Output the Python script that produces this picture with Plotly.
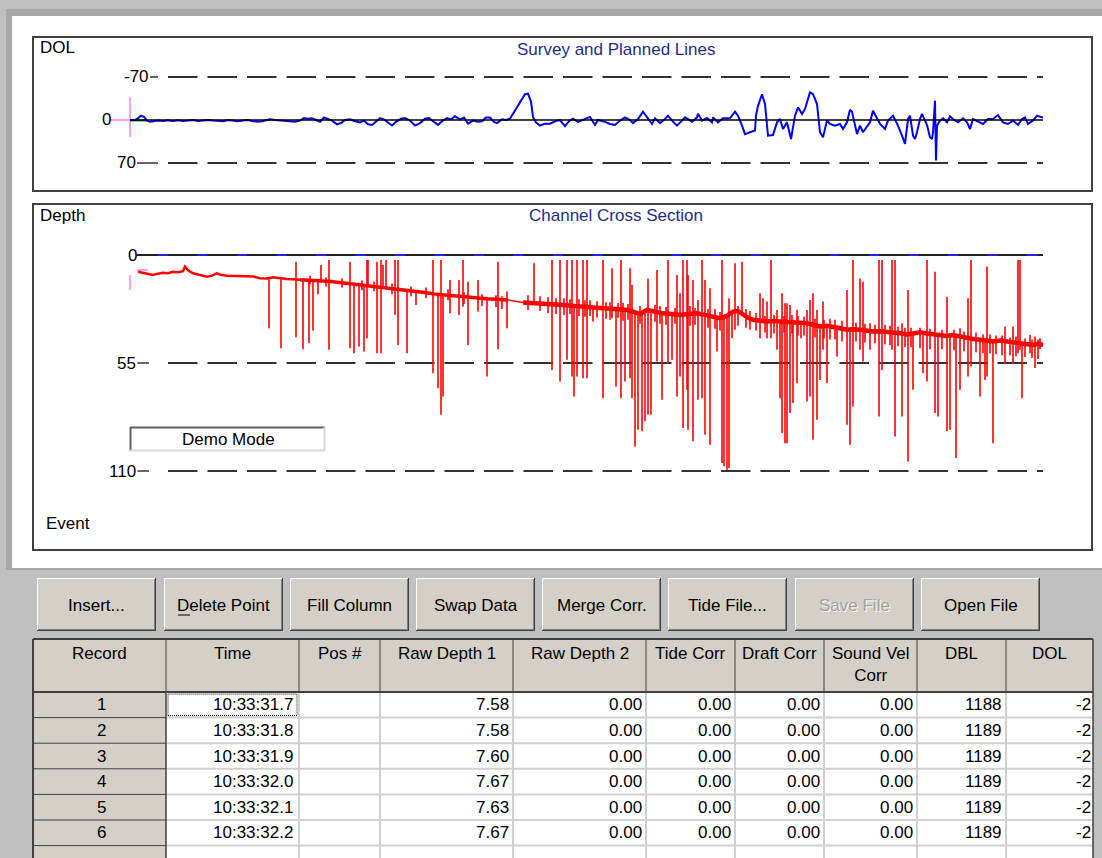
import plotly.graph_objects as go

# ------------------------------------------------------------------ DATA
# Survey line: distance along line vs. distance off line (DOL)
dol_dist = [0, 5, 8, 11, 14, 17, 20, 23, 28, 33, 38, 43, 48, 53, 58, 63, 68, 73, 78, 83,
            88, 93, 98, 103, 108, 113, 118, 123, 128, 132, 136, 140, 145, 150, 155, 160, 165, 170, 174, 178,
            182, 186, 190, 194, 198, 202, 207, 211, 215, 220, 225, 230, 234, 238, 242, 246, 250, 254, 258, 262,
            266, 271, 275, 280, 285, 290, 295, 299, 303, 308, 312, 317, 321, 325, 330, 334, 338, 343, 348, 352,
            356, 360, 364, 367, 372, 376, 380, 395, 398, 401, 403, 406, 410, 415, 420, 425, 430, 435, 439, 443,
            448,
            455, 460, 465, 468, 475, 480, 485, 490, 495, 500, 503, 508, 513, 517, 522, 525, 530, 535, 538, 543,
            547, 552, 555, 562, 567, 568, 572, 577, 582, 583, 588, 593, 600, 605, 608, 612, 615, 620, 625, 626,
            628, 632, 635, 638, 643, 647, 650, 653, 657, 661, 665, 668, 672, 675, 680, 683, 687, 690, 693, 697,
            700, 705, 710, 713, 717, 720, 722, 727, 730, 733, 740, 743, 747, 750, 755, 758, 763, 768, 772, 775,
            778, 780, 783, 785, 787, 790, 792, 797, 800, 802, 803, 805, 806, 807, 810, 813, 817, 820, 823, 828,
            833, 837, 840, 843, 848, 853, 858, 863, 868, 873, 878, 883, 888, 892, 895, 898, 903, 907, 912, 913]
dol_value = [0, 0, -3, -7, -5, 1, 3, 2, 1, 1.5, 0.5, 1.5, 0.5, 1.5, 1, 0, 1.5, 1, 0, 1,
             2, 2, 0, 1, 2, 1, 0, 2, 3, 2, 0, -1, 0, 1, 2, 3, 3, 1, -3, -2,
             -3, 0, 3, -4, -2, 1, 7, 5, 0, -1, 2, 4, 1, 7, 8, 2, -3, -1, 4, 9,
             3, -2, -3, 1, 9, 5, -2, -3, 2, 8, 2, -3, -1, -6, -1, -4, 6, 1, 3, 2,
             -4, -4, 3, 5, -1, 0, -2, -42, -43, -30, -5, 4, 9, 6, 6, 2, 0, 10, 2, -2,
             3,
             -1.6, -5, 8, 0, 3, 6.5, 8, 1, -4.3, 0, 5, -1.6, -13.6, -4.3, 6.5, -2.7, 5, -1.6, -7, 2.7,
             9.2, 1, -4.3, 2.7, -4.3, -10, 1, -3.3, 3.8, -4.3, 3.8, -2.7, -2.7, -13.6, -7, 9.2, 23, 20, 17, -7,
             -23, -42, -26, 25.5, 24.4, 3.8, -1.6, 14.6, 3.8, 31, -7, -20.6, -9.8, -18, -45, -42, -26, 20, 28, 1,
             6.5, 9.2, 6.5, 14.6, 3.8, -16.8, -13.6, 23, 9.2, 20, 3.8, -15, -1.6, 6.5, 14.6, 1, -7, 9.2, 25.5, 39,
             -1.6, -7, 25.5, 31, 20, -1.6, -10, 8.1, 28, 31, 20, -31.5, 66, 9.2, 1, -2.7, 3.8, -6, -1.6, 3.8,
             -2.7, 3.8, 14.6, -1.6, 2.7, 6.5, -1.6, -1.6, -8, 3.8, 6.5, 1, 8.1, -1.6, -4.3, 6.5, 1, -7, -4.3, -4.3]

planned_dist = [0, 8, 17]
planned_value = [0.8, 0.8, 0.8]

# Channel cross section: sounded depth along the line
depth_dist = [8, 17, 23, 28, 33, 38, 43, 48, 53, 55, 58, 63, 70, 77, 82, 87, 90, 97, 107, 115,
              123, 130, 137, 143, 150, 157, 163, 170, 177, 183, 190, 197, 203, 210, 217, 223, 230, 237, 243, 250,
              257, 263, 270, 277, 283, 290, 297, 303, 310, 317, 323, 330, 337, 343, 350, 357, 363, 370, 378, 393,
              400, 407, 417, 423, 430, 437, 443, 450, 457, 463, 470, 477, 483, 490, 497, 503, 510, 517, 523, 533,
              542, 550, 558, 567, 575, 583, 590, 597, 603, 608, 613, 618, 623, 630, 637, 643, 650, 657, 663, 670,
              677, 683, 690, 697, 703, 710, 717, 723, 730, 737, 743, 750, 757, 763, 770, 777, 783, 790, 797, 803,
              810, 817, 823, 830, 837, 843, 850, 857, 863, 870, 877, 883, 890, 897, 903, 908, 913]
depth_value = [8.5, 9.3, 10.2, 9.5, 9, 9.3, 8.5, 8.8, 8.2, 5.9, 7.8, 9.3, 10.2, 11, 10.5, 9.3, 10, 10.5, 10.7, 10.9,
               11, 11.8, 11.9, 11.3, 11.9, 12.2, 12.4, 12.6, 12.7, 13.1, 13.2, 13.4, 13.6, 14, 14.4, 14.8, 15.3, 15.7, 16.1, 16.6,
               17, 17.4, 17.8, 18.2, 18.6, 18.9, 19.2, 19.8, 20.3, 20.5, 20.8, 21, 21.2, 21.6, 22, 22.3, 22.5, 22.7, 22.9, 24.2,
               24.4, 24.2, 24.6, 25, 25.4, 25.6, 25.9, 26.1, 26.3, 26.6, 27.1, 27.3, 27.6, 27.8, 28, 28.8, 30, 28, 28.6, 29.7,
               30, 30.5, 30, 29.7, 30.5, 31.4, 32.2, 31, 28.8, 28.5, 30.5, 32, 33, 33.5, 33.9, 33.6, 33.9, 34.2, 33.9, 34.4,
               34.7, 35.5, 36.4, 36, 36.4, 37.3, 38.1, 37.8, 38.1, 38.5, 39, 38.8, 39, 39.4, 39.8, 40.5, 40, 39.3, 40, 40.3,
               40.7, 41.2, 40.7, 41.5, 42.4, 42.8, 43.2, 43.6, 44, 43.6, 44, 44.5, 44.9, 45.4, 45.8, 45.2, 45.8]

# Small echo noise around the bottom line (position, shallow, deep)
noise_dist = [180, 196, 212, 232, 244, 262, 281, 296, 318, 334, 352, 366, 372, 398, 410, 418, 426, 434, 440, 449,
              455, 460, 467, 476, 480, 488, 493, 498, 510, 525, 530, 536, 545, 560, 565, 578, 585, 590, 608, 616,
              620, 626, 635, 644, 654, 662, 668, 674, 685, 694, 700, 705, 712, 726, 735, 745, 755, 760, 768, 775,
              781, 790, 800, 812, 824, 834, 846, 853, 860, 866, 872, 880, 886, 895, 902, 908]
noise_top = [10.5, 11.5, 12, 13, 13.5, 14.5, 16, 16.5, 17.5, 19, 20, 20.5, 21, 20.5, 21, 21.5, 22, 22, 22.5, 22.5,
             23, 23, 23.5, 24, 24, 24.5, 24.5, 25, 26, 25.5, 26, 26.5, 27, 26, 27, 27.5, 27.5, 29, 26, 27.5,
             28.5, 29.5, 31, 30.5, 31, 30.5, 31, 31.5, 32.5, 33, 32.5, 33, 33.5, 34.5, 35, 35.5, 35.5, 36, 36.5, 37,
             37, 37, 37.5, 38, 38, 39, 39.5, 40.5, 40.5, 41, 41, 42, 41.5, 42.5, 43, 43]
noise_bottom = [15, 16, 16.5, 18, 18.5, 20, 21, 22, 23, 25, 26, 26.5, 27.5, 28, 28.5, 29.5, 30, 30.5, 30, 31,
                31.5, 31, 32, 32.5, 33, 32, 33.5, 33, 35, 34, 35, 35.5, 35, 36, 35.5, 37, 37.5, 38.5, 36, 37,
                38, 38.5, 39.5, 40, 39.5, 40, 41, 41, 42, 42.5, 43, 43, 44, 44, 44.5, 45, 45.5, 46, 46.5, 47,
                47, 47.5, 48, 48, 48.5, 49, 49.5, 50, 50, 50.5, 51, 51, 51.5, 52, 52.5, 53]

# Spurious soundings (spikes): position, shallowest and deepest reading
spike_dist = [139, 151, 166, 173, 179, 183, 188, 191, 199, 220, 224, 229, 234, 237, 238, 247, 251, 253, 256, 265,
              268, 277, 286, 303, 308, 311, 313, 320, 329, 333, 338, 348, 357, 368, 377, 404, 422, 430, 437, 442,
              444, 447, 453, 457, 463, 473, 482, 486, 491, 495, 500, 502, 505, 508, 512, 515, 518, 521, 527, 532,
              538, 542, 547, 550, 553, 557, 558, 563, 568, 572, 575, 580, 587, 592, 594, 597, 599, 602, 605, 612,
              630, 633, 637, 641, 647, 650, 652, 655, 657, 660, 663, 667, 671, 677, 680, 683, 687, 690, 693, 697,
              707, 717, 720, 723, 730, 733, 740, 749, 752, 762, 765, 772, 778, 783, 793, 797, 805, 808, 817, 820,
              826, 830, 838, 841, 850, 855, 857, 863, 875, 883, 888, 890, 892, 900, 905, 910]
spike_top = [11.5, 11.9, 3.4, 12.6, 12.8, 13.1, 13.2, 5.1, 2.5, 3.4, 14.6, 15, 15.5, 2.5, 2.5, 3.4, 2.5, 5.1, 2.5, 2.5,
             2.5, 18.2, 18.7, 2.5, 20.2, 2.5, 20.4, 12.7, 12.7, 2.5, 13.6, 12.7, 22.3, 3.4, 18.6, 4.2, 2.5, 2.5, 2.5, 2.5,
             26, 2.5, 2.5, 2.5, 26.6, 2.5, 6.8, 27.7, 2.5, 27.9, 6.8, 15.3, 28.5, 28.7, 29, 28.5, 11.9, 28.4, 7.6, 29.5,
             2.5, 30, 10.2, 19.5, 2.5, 2.5, 10.2, 12.7, 22.9, 2.5, 12.7, 16.9, 31.8, 2.5, 32, 31, 22, 29.5, 4.2, 3.4,
             19.5, 22, 23.7, 2.5, 28, 33.9, 19.5, 24.6, 24.6, 25.4, 33.9, 28, 34.3, 28, 22.9, 19.5, 28, 36.4, 23.7, 36,
             36, 17.8, 37.9, 2.5, 11.9, 13.6, 34.7, 2.5, 2.5, 2.5, 2.5, 34.7, 17.8, 40, 39.6, 2.5, 8.5, 40.5, 21.2, 41,
             40.8, 37.3, 22, 2.5, 43.2, 43.4, 5.9, 44, 36.4, 36.4, 2.5, 2.5, 45.1, 40.7, 41.5, 42.4]
spike_bottom = [37.3, 47.5, 41.9, 48, 45, 38.5, 20, 13.3, 48.3, 47.5, 50, 46.6, 49.2, 42.4, 15.8, 50, 50, 16.8, 17, 30.5,
                45.8, 50, 25.4, 60.2, 67.8, 81.4, 72, 29.7, 30.5, 26.3, 45.8, 28.8, 61.9, 48, 37.3, 24.4, 58.5, 64.4, 53.4, 61.9,
                72, 61.9, 62.7, 62.7, 33.9, 72.9, 32.2, 66.9, 72.9, 64.4, 62.7, 72.9, 97.5, 89, 89.8, 84.7, 81.4, 81.4, 54.2, 73.7,
                55.1, 53.4, 72, 61.9, 88.1, 68.6, 89, 94.9, 73.7, 72.9, 91.5, 96.6, 49.2, 105.9, 107.6, 109.3, 108.5, 42.4, 38.1, 31,
                42.4, 33.5, 42.4, 42.4, 48.3, 72.9, 90.7, 95.8, 95.8, 80.5, 75.4, 65.3, 42.4, 74.6, 72, 94.1, 83.9, 63.6, 48.3, 65.3,
                51.7, 86.4, 96.6, 77.1, 48.3, 54.2, 48.3, 82.2, 58.5, 48.3, 92.4, 82.2, 105.1, 68.6, 60.2, 64.4, 80.5, 82.2, 89.8, 89,
                103.4, 68.6, 61.9, 56.8, 72, 63.6, 61.9, 95.8, 55.1, 55.1, 50, 48.3, 72.9, 50, 57.6, 48]

dol_ticks = [-70, 0, 70]
depth_ticks = [0, 55, 110]

button_labels = ["Insert...", "Delete Point", "Fill Column", "Swap Data",
                 "Merge Corr.", "Tide File...", "Save File", "Open File"]
button_enabled = [True, True, True, True, True, True, False, True]

col_headers = ["Record", "Time", "Pos #", "Raw Depth 1", "Raw Depth 2",
               "Tide Corr", "Draft Corr", "Sound Vel<br>Corr", "DBL", "DOL"]
records = [1, 2, 3, 4, 5, 6]
times = ["10:33:31.7", "10:33:31.8", "10:33:31.9", "10:33:32.0", "10:33:32.1", "10:33:32.2"]
pos_numbers = ["", "", "", "", "", ""]
raw_depth_1 = [7.58, 7.58, 7.60, 7.67, 7.63, 7.67]
raw_depth_2 = [0.00, 0.00, 0.00, 0.00, 0.00, 0.00]
tide_corr = [0.00, 0.00, 0.00, 0.00, 0.00, 0.00]
draft_corr = [0.00, 0.00, 0.00, 0.00, 0.00, 0.00]
sound_vel_corr = [0.00, 0.00, 0.00, 0.00, 0.00, 0.00]
dbl = [1188, 1189, 1189, 1189, 1189, 1189]
dol_column = [-2, -2, -2, -2, -2, -2]

# ------------------------------------------------------------------ LAYOUT HELPERS
W, H = 1102, 858
FONT = "Liberation Sans, Arial, sans-serif"
FS = 17
NAVY = "#1f2d86"
FACE = "#d4d0c8"
DARK = "#404040"


def fx(x):
    return x / W


def fy(y):
    return 1 - y / H


shapes = []
annotations = []


def add_rect(x0, y0, x1, y1, fill=None, line=None, width=1, layer="below", dash=None):
    ln = dict(width=0) if line is None else dict(color=line, width=width)
    if dash:
        ln["dash"] = dash
    shapes.append(dict(type="rect", xref="paper", yref="paper",
                       x0=fx(x0), x1=fx(x1), y0=fy(y1), y1=fy(y0),
                       fillcolor=fill if fill else "rgba(0,0,0,0)", line=ln, layer=layer))


def add_line(x0, y0, x1, y1, color, width=1, dash=None, yref="paper", layer="below"):
    ln = dict(color=color, width=width)
    if dash:
        ln["dash"] = dash
    if yref == "paper":
        y0, y1 = fy(y0), fy(y1)
    shapes.append(dict(type="line", xref="paper", yref=yref,
                       x0=fx(x0), x1=fx(x1), y0=y0, y1=y1, line=ln, layer=layer))


def add_text(x, y, text, anchor="center", color="black", size=FS, yref="paper"):
    annotations.append(dict(x=fx(x), y=fy(y) if yref == "paper" else y, xref="paper", yref=yref,
                            text=text, showarrow=False, xanchor=anchor, yanchor="middle",
                            borderpad=0, font=dict(family=FONT, size=size, color=color)))


# ------------------------------------------------------------------ BACKGROUND / FRAMES
add_rect(6, 9, W, 570, fill="#a8a8a8")
add_rect(12, 16, W, 568, fill="white")
add_rect(33, 37, 1092, 191, line=DARK, width=2)
add_rect(33, 204, 1092, 550, line=DARK, width=2)

# Panel 1 – Survey and Planned Lines
add_text(39, 48, "DOL", anchor="left")
add_text(616, 49, "Survey and Planned Lines", color=NAVY)
dash_pat = "29.5px,10px"
for v in dol_ticks:
    if v != 0:
        add_line(168, v, 1043, v, "#333333", width=2, dash=dash_pat, yref="y")
add_line(150, dol_ticks[0], 158, dol_ticks[0], "#333333", width=1.5, yref="y")
add_line(137, dol_ticks[2], 158, dol_ticks[2], "#333333", width=1.5, yref="y")
add_text(150, dol_ticks[0], "-70", anchor="right", yref="y")
add_text(112, dol_ticks[1], "0", anchor="right", yref="y")
add_text(137, dol_ticks[2], "70", anchor="right", yref="y")
add_line(130, 0, 1043, 0, "black", width=1.5, yref="y", layer="above")
add_line(110, 0, 130, 0, "#ff80ff", width=1.5, yref="y")
add_line(130, -37.4, 130, 27.7, "#ff80ff", width=1.5, yref="y")

# Panel 2 – Channel Cross Section
add_text(39, 215, "Depth", anchor="left")
add_text(616, 215, "Channel Cross Section", color=NAVY)
add_text(45, 523, "Event", anchor="left")
add_line(158, 0, 1043, 0, "#2020ff", width=2, yref="y2")
add_line(168, 0, 1043, 0, "#222222", width=2, dash=dash_pat, yref="y2")
add_line(137, 0, 158, 0, "#222222", width=2, yref="y2")
for v in depth_ticks[1:]:
    add_line(168, v, 1043, v, "#333333", width=2, dash=dash_pat, yref="y2")
    add_line(137.5, v, 149, v, "#333333", width=1.5, yref="y2")
add_text(138, depth_ticks[0], "0", anchor="right", yref="y2")
add_text(137, depth_ticks[1], "55", anchor="right", yref="y2")
add_text(137, depth_ticks[2], "110", anchor="right", yref="y2")
add_line(130, 10.2, 130, 17.8, "#ff80ff", width=1.5, yref="y2")
add_line(137, 7.6, 148, 7.6, "#ff80ff", width=1.5, yref="y2")

# Demo Mode box (sunken)
add_rect(130, 427, 325, 451, fill="white")
add_line(130, 427.5, 325, 427.5, "#606060", width=2)
add_line(130.5, 427, 130.5, 451, "#606060", width=2)
add_line(130, 450.5, 325, 450.5, "#d8d8d8", width=2)
add_line(324.5, 427, 324.5, 451, "#d8d8d8", width=2)
add_text(228, 439, "Demo Mode")

# ------------------------------------------------------------------ BUTTONS
btn_left = [37, 164, 290, 416, 542, 668, 795, 921]
btn_w, btn_top, btn_bot = 119, 578, 631
for lbl, left, en in zip(button_labels, btn_left, button_enabled):
    r = left + btn_w
    add_rect(left, btn_top, r, btn_bot, fill=FACE)
    add_line(left, btn_top + 0.5, r, btn_top + 0.5, "white", 1)
    add_line(left + 0.5, btn_top, left + 0.5, btn_bot, "white", 1)
    add_line(left, btn_bot - 0.5, r, btn_bot - 0.5, DARK, 1)
    add_line(r - 0.5, btn_top, r - 0.5, btn_bot, DARK, 1)
    add_line(left + 1, btn_bot - 1.5, r - 1, btn_bot - 1.5, "#808080", 1)
    add_line(r - 1.5, btn_top + 1, r - 1.5, btn_bot - 1, "#808080", 1)
    cx = left + btn_w / 2
    if en:
        add_text(cx, 605, lbl)
    else:
        add_text(cx + 1, 606, lbl, color="white")
        add_text(cx, 605, lbl, color="#a0a0a0")
# mnemonic underline of "Delete Point"
add_line(178, 615, 190, 615, "black", 1)

# ------------------------------------------------------------------ TABLE
cols = [33, 166, 299, 380, 513, 646, 735, 824, 917, 1006, 1093]
h_top, h_bot, row_h = 639, 692, 25.6
add_rect(33, h_top, 1093, H, fill=FACE)
add_rect(166, h_bot, 1093, H, fill="white")
row_lines = [h_bot + i * row_h for i in range(1, 7)]
for yl in row_lines:
    add_line(166, yl, 1093, yl, "#d0d0d0", 2)
    add_line(33, yl, 166, yl, DARK, 1)
for xc in cols[2:-1]:
    add_line(xc, h_bot, xc, H, "#d0d0d0", 2)
for xc in cols[1:-1]:
    add_line(xc, h_top, xc, h_bot, DARK, 1)
add_line(166, h_bot, 166, H, DARK, 1.5)
add_line(33, h_top, 1093, h_top, DARK, 2)
add_line(33, h_bot, 1093, h_bot, DARK, 2)
add_line(33, h_top, 33, H, DARK, 2)
add_line(1093, h_top, 1093, H, DARK, 1.5)
add_rect(1094, h_top - 1, W, H, fill="#c0c0c0")

for i, hdr in enumerate(col_headers):
    cx = (cols[i] + cols[i + 1]) / 2
    add_text(cx, 664 if "<br>" in hdr else 653, hdr)

# focus rectangle on first time cell
add_rect(168, h_bot + 2, 297, h_bot + row_h - 2, line="black", width=1, dash="1px,1px", layer="above")

for i in range(len(records)):
    cy = h_bot + row_h * (i + 0.5)
    add_text(101, cy, str(records[i]))
    add_text(294, cy, times[i], anchor="right")
    add_text(376, cy, pos_numbers[i], anchor="right")
    add_text(510, cy, f"{raw_depth_1[i]:.2f}", anchor="right")
    add_text(643, cy, f"{raw_depth_2[i]:.2f}", anchor="right")
    add_text(732, cy, f"{tide_corr[i]:.2f}", anchor="right")
    add_text(821, cy, f"{draft_corr[i]:.2f}", anchor="right")
    add_text(914, cy, f"{sound_vel_corr[i]:.2f}", anchor="right")
    add_text(1003, cy, f"{dbl[i]}", anchor="right")
    add_text(1092, cy, f"{dol_column[i]}", anchor="right")

# ------------------------------------------------------------------ TRACES
fig = go.Figure()
fig.add_trace(go.Scatter(x=planned_dist, y=planned_value, mode="lines",
                         line=dict(color="#00a000", width=2), hoverinfo="skip", xaxis="x", yaxis="y"))
fig.add_trace(go.Scatter(x=dol_dist, y=dol_value, mode="lines",
                         line=dict(color="#0000ff", width=2), hoverinfo="skip", xaxis="x", yaxis="y"))

# depth band drawn in segments of different noise thickness
segments = [(0, 170, 2.5), (170, 378, 3.5), (378, 393, 1.5), (393, 1000, 4.5)]
for a, b, wdt in segments:
    xs = [d for d in depth_dist if a <= d <= b]
    ys = [v for d, v in zip(depth_dist, depth_value) if a <= d <= b]
    fig.add_trace(go.Scatter(x=xs, y=ys, mode="lines", line=dict(color="#ff0000", width=wdt),
                             hoverinfo="skip", xaxis="x2", yaxis="y2"))


def vertical_segments(pos, top, bottom):
    sx, sy = [], []
    for d, t, b in zip(pos, top, bottom):
        sx += [d, d, None]
        sy += [t, b, None]
    return sx, sy


nx, ny = vertical_segments(noise_dist, noise_top, noise_bottom)
fig.add_trace(go.Scatter(x=nx, y=ny, mode="lines", line=dict(color="#ff0000", width=1.6),
                         hoverinfo="skip", xaxis="x2", yaxis="y2"))
sx, sy = vertical_segments(spike_dist, spike_top, spike_bottom)
fig.add_trace(go.Scatter(x=sx, y=sy, mode="lines", line=dict(color="#ff0000", width=1.6),
                         hoverinfo="skip", xaxis="x2", yaxis="y2"))

fig.update_layout(
    width=W, height=H, autosize=False,
    margin=dict(l=0, r=0, t=0, b=0, pad=0),
    paper_bgcolor="#c0c0c0", plot_bgcolor="rgba(0,0,0,0)",
    showlegend=False,
    xaxis=dict(domain=[fx(130), fx(1045)], range=[0, 915], visible=False, anchor="y"),
    yaxis=dict(domain=[fy(188), fy(40)], range=[110.70, -130.23], visible=False, anchor="x"),
    xaxis2=dict(domain=[fx(130), fx(1045)], range=[0, 915], visible=False, anchor="y2"),
    yaxis2=dict(domain=[fy(546), fy(208)], range=[148.19, -23.94], visible=False, anchor="x2"),
    shapes=shapes,
    annotations=annotations,
)

fig.write_html("out.html")
